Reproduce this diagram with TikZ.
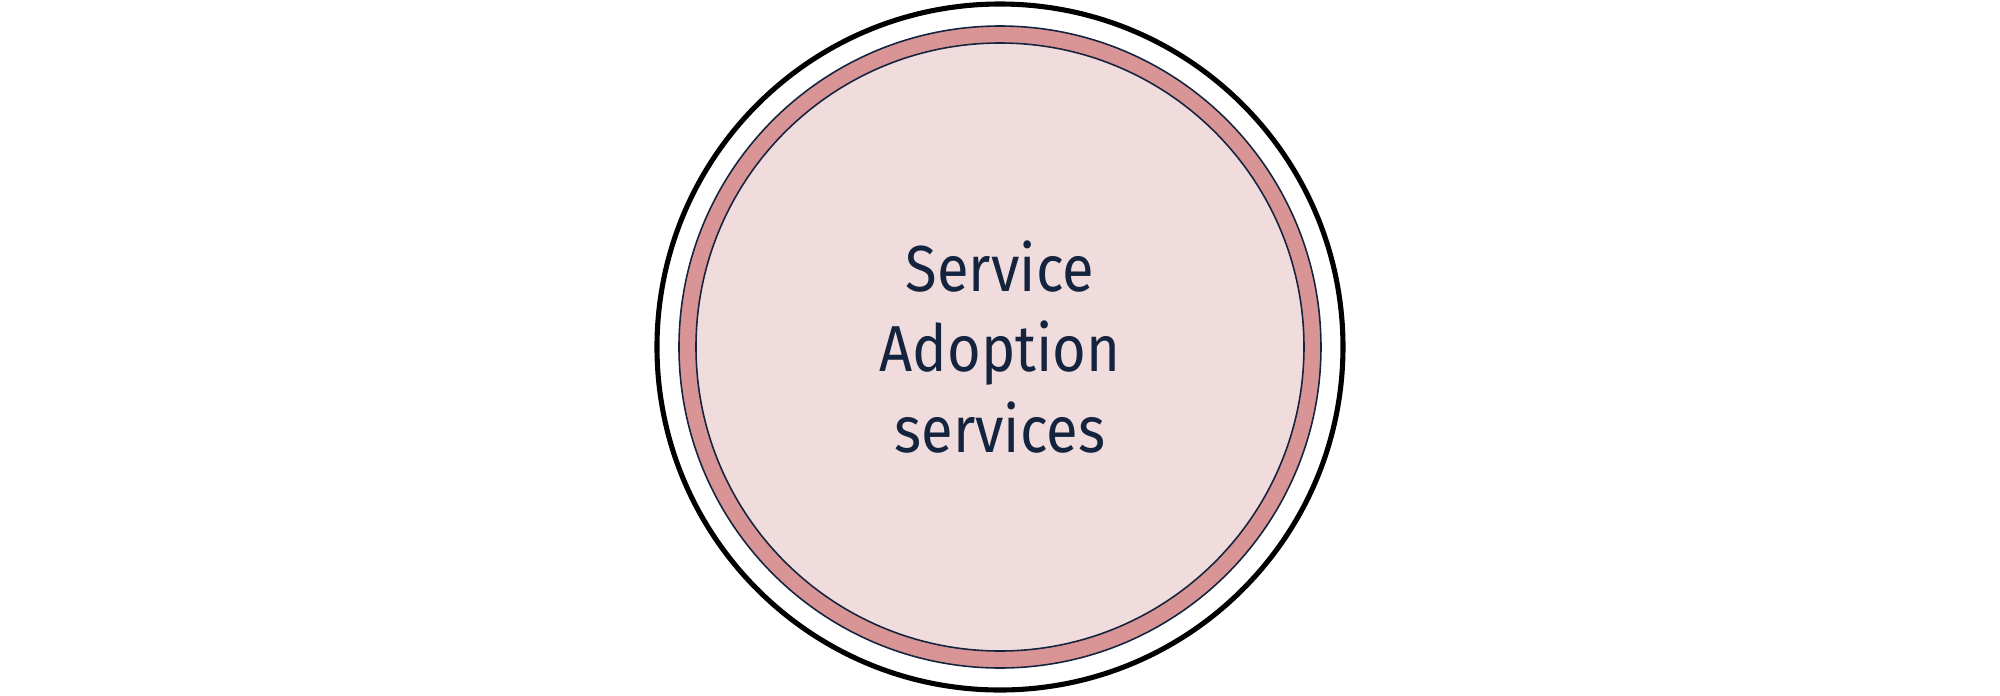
\documentclass[tikz,border=0pt]{standalone}
\usepackage{fontspec}
\setmainfont[FakeStretch=0.89]{Fira Sans}
\usetikzlibrary{positioning}
\definecolor{ringpink}{HTML}{D99595}
\definecolor{corepink}{HTML}{F1DCDD}
\definecolor{inknavy}{HTML}{14243F}
\tikzset{
    every node/.style={
        circle,
        inner sep=0pt},
    outer ring/.style={
        draw=black,
        line width=1.45pt,
        minimum size=6.86cm},
    band/.style={
        draw=inknavy,
        fill=ringpink,
        line width=0.45pt,
        minimum size=6.42cm},
    core/.style={
        draw=inknavy,
        fill=corepink,
        line width=0.45pt,
        minimum size=6.08cm,
        text=inknavy,
        align=center,
        font=\fontsize{18.5}{22.8}\selectfont}}

\begin{document}
\begin{tikzpicture}
        \useasboundingbox (-10,-3.48) rectangle (10,3.47);
        \node[outer ring] (rim) at (0,0) {};
        \node[band] (ring) at (rim.center) {};
        \node[core] (sas) at (ring.center) {Service\\Adoption\\services};
    \end{tikzpicture}
\end{document}
